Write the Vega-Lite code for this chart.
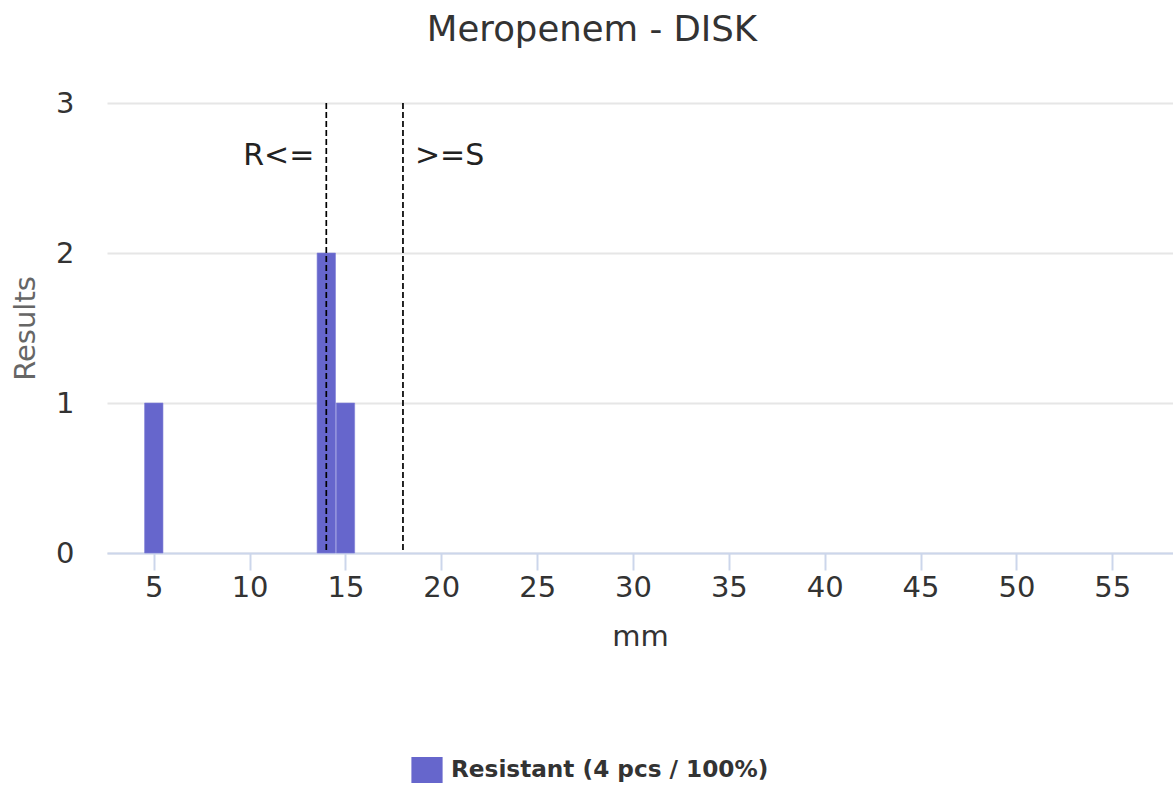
{
  "$schema": "https://vega.github.io/schema/vega-lite/v6.json",
  "autosize": "none",
  "width": 1066,
  "height": 450,
  "padding": {"left": 107, "top": 103, "right": 0, "bottom": 234},
  "background": "white",
  "title": {
    "text": "Meropenem - DISK",
    "anchor": "middle",
    "frame": "group",
    "dx": -48,
    "offset": 41,
    "font": "DejaVu Sans",
    "fontSize": 35.5,
    "fontWeight": "normal",
    "color": "#333333"
  },
  "config": {
    "view": {"stroke": null},
    "font": "DejaVu Sans",
    "legend": {"orient": "none", "legendX": 307, "legendY": 654, "padding": 0}
  },
  "layer": [
    {
      "data": {"values": [
        {"mm": 5, "count": 1, "series": "Resistant (4 pcs / 100%)"},
        {"mm": 14, "count": 2, "series": "Resistant (4 pcs / 100%)"},
        {"mm": 15, "count": 1, "series": "Resistant (4 pcs / 100%)"}
      ]},
      "mark": {"type": "bar", "width": 18.4, "stroke": "#7f7fd6", "strokeWidth": 0.6},
      "encoding": {
        "x": {
          "field": "mm", "type": "quantitative",
          "scale": {"domain": [2.56, 58.17], "nice": false, "zero": false, "padding": 0},
          "axis": {
            "title": "mm", "values": [5, 10, 15, 20, 25, 30, 35, 40, 45, 50, 55],
            "grid": false, "labelFontSize": 29, "labelColor": "#333333",
            "labelPadding": 3, "tickSize": 17, "tickColor": "#ccd6eb", "tickWidth": 2,
            "domainColor": "#ccd6eb", "domainWidth": 2,
            "titleFontSize": 29, "titleFontWeight": "normal", "titleColor": "#333333",
            "titlePadding": 20, "labelFlush": false
          }
        },
        "y": {
          "field": "count", "type": "quantitative",
          "scale": {"domain": [0, 3], "nice": false, "padding": 0},
          "axis": {
            "title": "Results", "values": [0, 1, 2, 3], "format": "d",
            "grid": true, "gridColor": "#e6e6e6", "gridWidth": 2,
            "ticks": false, "tickSize": 0, "domain": false,
            "labelFontSize": 29, "labelColor": "#333333", "labelPadding": 33,
            "titleFontSize": 29, "titleFontWeight": "normal", "titleColor": "#666666",
            "titlePadding": 15
          }
        },
        "color": {
          "field": "series", "type": "nominal",
          "scale": {"domain": ["Resistant (4 pcs / 100%)"], "range": ["#6666cc"]},
          "legend": {
            "title": null,
            "symbolType": "M-1.2,-1H1.2V1H-1.2Z",
            "symbolSize": 676,
            "symbolStrokeWidth": 0,
            "symbolOpacity": 1,
            "labelFontSize": 23.2,
            "labelFontWeight": "bold",
            "labelColor": "#333333",
            "labelOffset": 11,
            "labelLimit": 600
          }
        }
      }
    },
    {
      "data": {"values": [
        {"mm": 14, "label": "R<="},
        {"mm": 18, "label": ">=S"}
      ]},
      "layer": [
        {
          "mark": {"type": "rule", "color": "#000000", "strokeWidth": 1.7, "strokeDash": [6, 3]},
          "encoding": {"x": {"field": "mm", "type": "quantitative"}}
        },
        {
          "transform": [{"filter": "datum.label === 'R<='"}],
          "mark": {"type": "text", "align": "right", "baseline": "middle", "dx": -12, "fontSize": 30, "color": "#222222"},
          "encoding": {
            "x": {"field": "mm", "type": "quantitative"},
            "y": {"datum": 2.65},
            "text": {"field": "label"}
          }
        },
        {
          "transform": [{"filter": "datum.label === '>=S'"}],
          "mark": {"type": "text", "align": "left", "baseline": "middle", "dx": 12, "fontSize": 30, "color": "#222222"},
          "encoding": {
            "x": {"field": "mm", "type": "quantitative"},
            "y": {"datum": 2.65},
            "text": {"field": "label"}
          }
        }
      ]
    }
  ]
}
